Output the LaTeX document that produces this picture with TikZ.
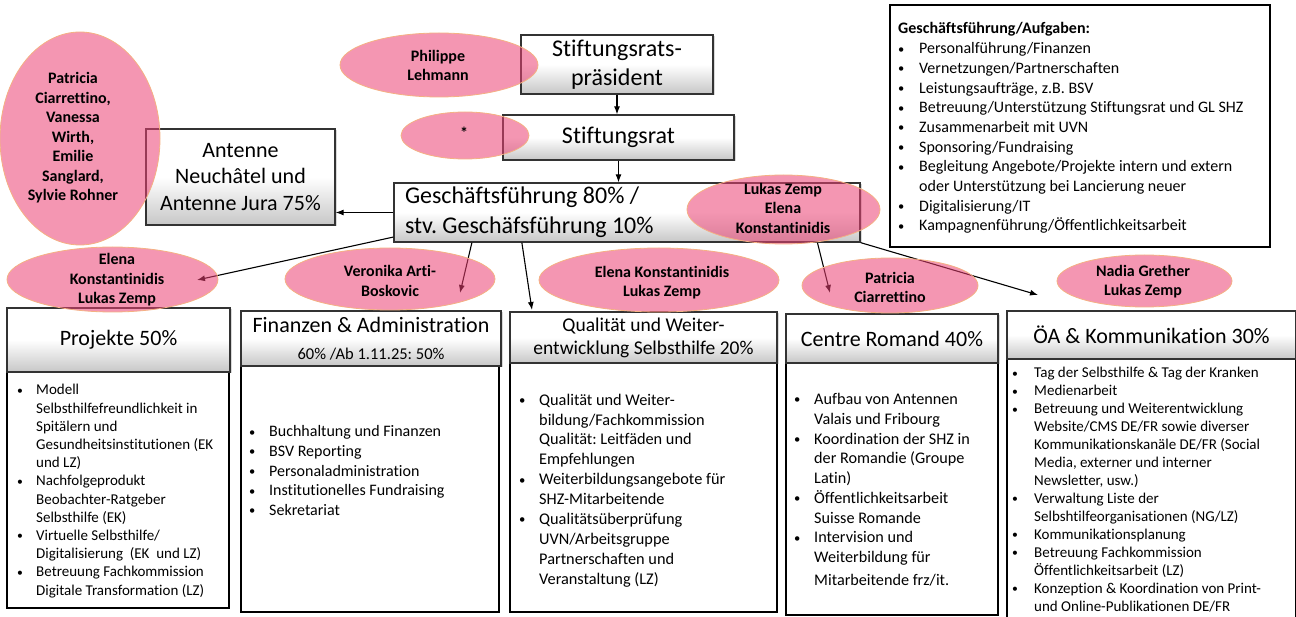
\documentclass[tikz,border=0pt]{standalone}
\usepackage{fontspec}
\setmainfont{Carlito}[Ligatures=NoCommon]
\usepackage{graphicx}
\usepackage{tikz}
\usetikzlibrary{shapes}
\usetikzlibrary{shadows}
\usetikzlibrary{arrows.meta}
\usepackage{xcolor}
\frenchspacing

\definecolor{namepink}{RGB}{235,64,115}
\definecolor{nameedge}{RGB}{244,177,131}

\newcommand{\bl}{\raisebox{0.6pt}{\scalebox{0.78}{\textbullet}}}
\newcommand{\fs}[2]{\fontsize{#1}{#2}\selectfont}

\tikzset{
  headbox/.style={draw=black!80, line width=1.3pt, top color=white, bottom color=black!22, middle color=white, inner sep=0pt, align=center, drop shadow={shadow xshift=1.5pt, shadow yshift=-1.5pt, opacity=0.3}},
  listbox/.style={draw=black, line width=1.3pt, fill=white, inner sep=0pt},
  namebubble/.style={ellipse, fill=namepink, fill opacity=0.55, draw=nameedge, line width=0.8pt, inner sep=0pt},
  nametext/.style={font=\bfseries\fs{16}{19.5}, align=center, inner sep=0pt},
  listtext/.style={anchor=north west, inner sep=0pt},
  conn/.style={-{Latex[length=8pt,width=6pt]}, line width=1.1pt}
}

\begin{document}
\begin{tikzpicture}[x=1pt, y=-1pt]
  \useasboundingbox (0,0) rectangle (1296,617);
  \clip (0,0) rectangle (1296,617);

  \node[headbox, minimum width=192pt, minimum height=59pt, font=\fs{24}{29.5}] (praes) at (617,64.5) {Stiftungsrats-\\präsident};
  \node[headbox, minimum width=231pt, minimum height=45pt, font=\fs{24}{29.5}] (rat) at (618.5,137.5) {Stiftungsrat};
  \node[headbox, minimum width=466pt, minimum height=59pt, font=\fs{24}{30}, text width=444pt, align=left] (gf) at (627,212.5) {\spaceskip=0pt\relax Geschäftsführung 80\% /\\stv. Geschäfsführung 10\%};
  \node[headbox, minimum width=189pt, minimum height=96pt, font=\fs{22}{26.5}] (ant) at (240.5,177) {Antenne\\Neuchâtel und\\Antenne Jura 75\%};

  \node[listbox, minimum width=380pt, minimum height=242pt] (aufg) at (1080,126) {};
  \node[listtext, font=\fs{16}{19.7}] (aufgtext) at (898,20) {\begin{tabular}{@{}p{21pt}@{}l@{}}
    \multicolumn{2}{@{}l@{}}{\textbf{Geschäftsführung/Aufgaben:}}\\
    \bl & Personalführung/Finanzen\\
    \bl & Vernetzungen/Partnerschaften\\
    \bl & Leistungsaufträge, z.B. BSV\\
    \bl & Betreuung/Unterstützung Stiftungsrat und GL SHZ\\
    \bl & Zusammenarbeit mit UVN\\
    \bl & Sponsoring/Fundraising\\
    \bl & Begleitung Angebote/Projekte intern und extern\\
        & oder Unterstützung bei Lancierung neuer\\
    \bl & Digitalisierung/IT\\
    \bl & Kampagnenführung/Öffentlichkeitsarbeit
  \end{tabular}};

  \node[listbox, minimum width=222pt, minimum height=236pt] (projliste) at (118,490) {};
  \node[listbox, minimum width=258pt, minimum height=246pt] (finliste) at (370,489) {};
  \node[listbox, minimum width=267pt, minimum height=249pt] (qualliste) at (643.5,487.5) {};
  \node[listbox, minimum width=212pt, minimum height=252pt] (romliste) at (892,489) {};
  \node[listbox, minimum width=289pt, minimum height=281pt] (oealiste) at (1151.5,499.5) {};

  \node[headbox, minimum width=223pt, minimum height=64pt, font=\fs{22}{26.5}] (projkopf) at (118.5,340) {Projekte 50\%};
  \node[headbox, minimum width=260pt, minimum height=55pt, font=\fs{22}{26.5}] (finkopf) at (371,338.5) {Finanzen \& Administration\\{\fs{16.5}{26.5}60\% /Ab 1.11.25: 50\%}};
  \node[headbox, minimum width=267pt, minimum height=51pt, font=\fs{19.5}{23}] (qualkopf) at (643.5,337.5) {Qualität und Weiter-\\entwicklung Selbsthilfe 20\%};
  \node[headbox, minimum width=212pt, minimum height=49pt, font=\fs{22}{26.5}] (romkopf) at (892,338.5) {Centre Romand 40\%};
  \node[headbox, minimum width=289pt, minimum height=48pt, font=\fs{22}{26.5}] (oeakopf) at (1151.5,335) {ÖA \& Kommunikation 30\%};

  \node[listtext, font=\fs{15}{18.2}] (projtext) at (17,382) {\begin{tabular}{@{}p{19pt}@{}l@{}}
    \bl & Modell\\
        & Selbsthilfefreundlichkeit in\\
        & Spitälern und\\
        & Gesundheitsinstitutionen (EK\\
        & und LZ)\\
    \bl & Nachfolgeprodukt\\
        & Beobachter-Ratgeber\\
        & Selbsthilfe (EK)\\
    \bl & Virtuelle Selbsthilfe/\\
        & Digitalisierung\ \ (EK\ \ und LZ)\\
    \bl & Betreuung Fachkommission\\
        & Digitale Transformation (LZ)
  \end{tabular}};
  \node[listtext, font=\fs{16}{19.6}] (fintext) at (249,423) {\begin{tabular}{@{}p{20pt}@{}l@{}}
    \bl & Buchhaltung und Finanzen\\
    \bl & BSV Reporting\\
    \bl & Personaladministration\\
    \bl & Institutionelles Fundraising\\
    \bl & Sekretariat
  \end{tabular}};
  \node[listtext, font=\fs{16.3}{19.9}] (qualtext) at (519,391) {\begin{tabular}{@{}p{20pt}@{}l@{}}
    \bl & Qualität und Weiter-\\
        & bildung/Fachkommission\\
        & Qualität: Leitfäden und\\
        & Empfehlungen\\
    \bl & Weiterbildungsangebote für\\
        & SHZ-Mitarbeitende\\
    \bl & Qualitätsüberprüfung\\
        & UVN/Arbeitsgruppe\\
        & Partnerschaften und\\
        & Veranstaltung (LZ)
  \end{tabular}};
  \node[listtext, font=\fs{16.2}{19.75}] (romtext) at (794,390.5) {\begin{tabular}{@{}p{20pt}@{}l@{}}
    \bl & Aufbau von Antennen\\
        & Valais und Fribourg\\
    \bl & Koordination der SHZ in\\
        & der Romandie (Groupe\\
        & Latin)\\
    \bl & Öffentlichkeitsarbeit\\
        & Suisse Romande\\
    \bl & Intervision und\\
        & Weiterbildung für\\[3pt]
        & Mitarbeitende frz/it.
  \end{tabular}};
  \node[listtext, font=\fs{15}{17.95}] (oeatext) at (1012,365) {\begin{tabular}{@{}p{22pt}@{}l@{}}
    \bl & Tag der Selbsthilfe \& Tag der Kranken\\
    \bl & Medienarbeit\\
    \bl & Betreuung und Weiterentwicklung\\
        & Website/CMS DE/FR sowie diverser\\
        & Kommunikationskanäle DE/FR (Social\\
        & Media, externer und interner\\
        & Newsletter, usw.)\\
    \bl & Verwaltung Liste der\\
        & Selbshtilfeorganisationen (NG/LZ)\\
    \bl & Kommunikationsplanung\\
    \bl & Betreuung Fachkommission\\
        & Öffentlichkeitsarbeit (LZ)\\
    \bl & Konzeption \& Koordination von Print-\\
        & und Online-Publikationen DE/FR
  \end{tabular}};

  \coordinate (zielprojekte) at (197,280);
  \coordinate (zielfinanzen) at (460,293);
  \coordinate (zielqualitaet) at (532,310);
  \coordinate (zielromand) at (830,293);
  \coordinate (zieloea) at (1038,295);

  \draw[conn] (praes.south) -- (praes.south |- rat.north);
  \draw[conn] (rat.south) -- (rat.south |- gf.north);
  \draw[conn] (gf.west) -- (gf.west -| ant.east);
  \draw[conn] (gf.186) -- (zielprojekte);
  \draw[conn] (gf.191.35) -- (zielfinanzen);
  \draw[conn] (gf.196.3) -- (zielqualitaet);
  \draw[conn] (gf.351.3) -- (zielromand);
  \draw[conn] (gf.south east) -- (zieloea);

  \node[namebubble, minimum width=160pt, minimum height=213pt] (teamantenne) at (80,138.5) {};
  \node[namebubble, minimum width=198pt, minimum height=64pt] (teampraes) at (439,65) {};
  \node[namebubble, minimum width=128pt, minimum height=47pt] (teamrat) at (465,135.5) {};
  \node[namebubble, minimum width=193pt, minimum height=69pt] (teamgf) at (783.5,209.5) {};
  \node[namebubble, minimum width=211pt, minimum height=65pt] (teamprojekte) at (112.5,279.5) {};
  \node[namebubble, minimum width=210pt, minimum height=62pt] (teamfinanzen) at (390,279) {};
  \node[namebubble, minimum width=240pt, minimum height=64pt] (teamqualitaet) at (659,280) {};
  \node[namebubble, minimum width=176pt, minimum height=55pt] (teamromand) at (890,285.5) {};
  \node[namebubble, minimum width=175pt, minimum height=52pt] (teamoea) at (1144.5,281) {};

  \node[nametext] (nameantenne) at (73,138) {Patricia\\Ciarrettino,\\Vanessa\\Wirth,\\Emilie\\Sanglard,\\Sylvie Rohner};
  \node[nametext] (namepraes) at (438,65.5) {Philippe\\Lehmann};
  \node[nametext] (namerat) at (464,133) {*};
  \node[nametext] (namegf) at (783,208) {Lukas Zemp\\Elena\\Konstantinidis};
  \node[nametext] (nameprojekte) at (117,280) {Elena\\Konstantinidis\\Lukas Zemp};
  \node[nametext] (namefinanzen) at (390,281) {Veronika Arti-\\Boskovic};
  \node[nametext] (namequalitaet) at (662,282.5) {Elena Konstantinidis\\Lukas Zemp};
  \node[nametext] (nameromand) at (890,287.5) {Patricia\\Ciarrettino};
  \node[nametext] (nameoea) at (1143,281.5) {Nadia Grether\\Lukas Zemp};
\end{tikzpicture}
\end{document}
